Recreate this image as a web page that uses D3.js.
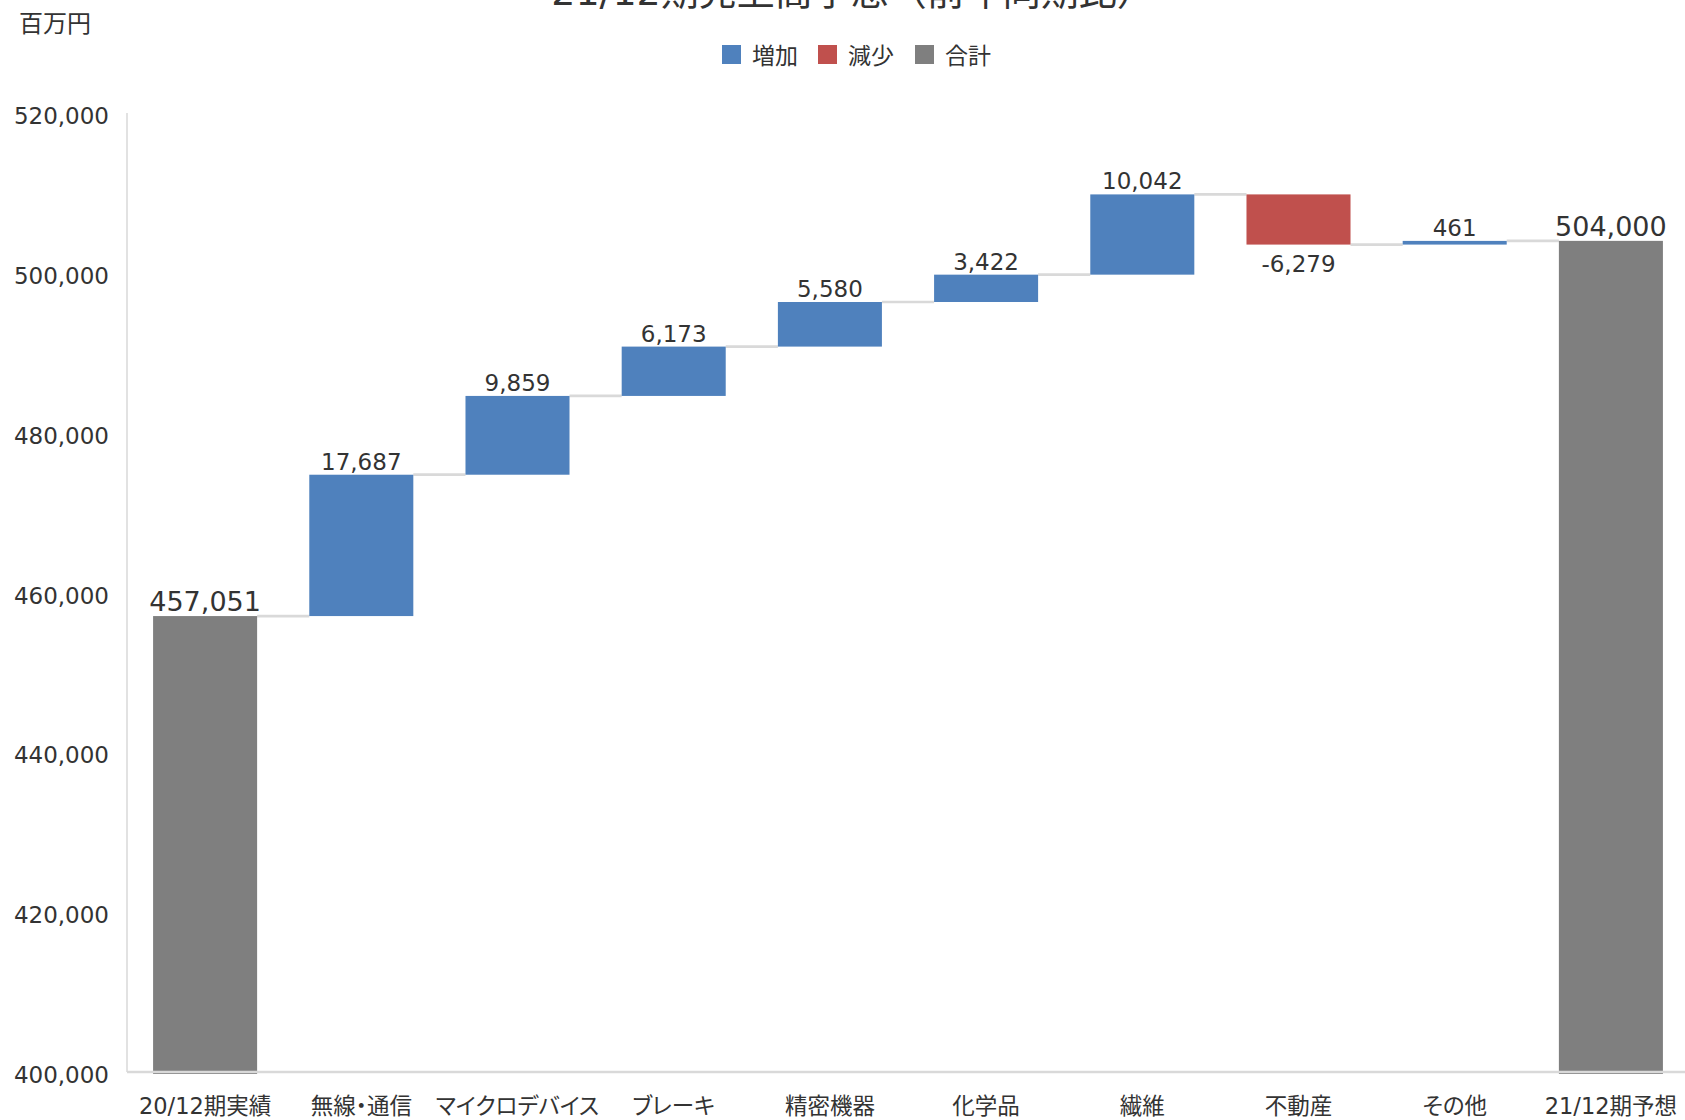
<!DOCTYPE html>
<html>
<head>
<meta charset="utf-8">
<script src="https://cdn.jsdelivr.net/npm/d3@7/dist/d3.min.js"></script>
<style>
html,body{margin:0;padding:0;background:#fff;}
svg{display:block;}
text{font-family:"DejaVu Sans","Noto Sans CJK JP",sans-serif;fill:#333;}
.cjk{font-feature-settings:"palt";}
</style>
</head>
<body>
<svg id="chart" width="1685" height="1120"></svg>
<script>
const title = "21/12期売上高予想（前年同期比）";
const unitLabel = "百万円";
const categories = ["20/12期実績","無線・通信","マイクロデバイス","ブレーキ","精密機器","化学品","繊維","不動産","その他","21/12期予想"];
const values = [457051, 17687, 9859, 6173, 5580, 3422, 10042, -6279, 461, 504000];
const kinds = ["total","delta","delta","delta","delta","delta","delta","delta","delta","total"];
const yTicks = [400000, 420000, 440000, 460000, 480000, 500000, 520000];
const legendNames = ["増加","減少","合計"];
const colors = {up:"#4f81bd", down:"#c0504d", total:"#7f7f7f"};

const svg = d3.select("#chart");
const W = 1685, H = 1120;
const x0 = 127, x1 = 1689, yTop = 113, yBot = 1072;
const fmt = d3.formatLocale({decimal: ".", thousands: ",", grouping: [3], currency: ["", ""], minus: "-"}).format(",");

const x = d3.scaleBand().domain(categories).range([x0, x1]).paddingInner(0.334).paddingOuter(0.167);
const y = d3.scaleLinear().domain([400000, 520000]).range([yBot, yTop]);

// compute waterfall
let run = 0;
const bars = categories.map((c, i) => {
  let start, end, type;
  if (kinds[i] === "total") {
    start = 400000; end = values[i]; run = values[i]; type = "total";
  } else {
    start = run; end = run + values[i]; run = end; type = values[i] >= 0 ? "up" : "down";
  }
  return {c, i, start, end, type, v: values[i], level: run};
});

// y axis line
svg.append("line").attr("x1", x0).attr("x2", x0).attr("y1", yTop).attr("y2", yBot)
  .attr("stroke", "#d9d9d9").attr("stroke-width", 1.5);

// connectors
for (let i = 0; i < bars.length - 1; i++) {
  const b = bars[i];
  const lvl = b.type === "total" ? b.end : b.level;
  svg.append("line")
    .attr("x1", x(b.c) + x.bandwidth()).attr("x2", x(bars[i+1].c))
    .attr("y1", y(lvl)).attr("y2", y(lvl))
    .attr("stroke", "#d9d9d9").attr("stroke-width", 2.7);
}

// bars
svg.append("g").selectAll("rect").data(bars).join("rect")
  .attr("x", d => x(d.c))
  .attr("width", x.bandwidth())
  .attr("y", d => y(Math.max(d.start, d.end)))
  .attr("height", d => Math.abs(y(d.start) - y(d.end)) + (d.type === "total" ? 2 : 0))
  .attr("fill", d => colors[d.type]);

// x axis line
svg.append("line").attr("x1", x0).attr("x2", W).attr("y1", yBot).attr("y2", yBot)
  .attr("stroke", "#d9d9d9").attr("stroke-width", 2.5);

// y tick labels
svg.append("g").selectAll("text").data(yTicks).join("text")
  .attr("x", 109).attr("y", d => y(d) + 11)
  .attr("text-anchor", "end").attr("font-size", 23)
  .text(d => fmt(d));

// x labels
svg.append("g").selectAll("text").data(categories).join("text")
  .attr("class", "cjk")
  .attr("x", d => x(d) + x.bandwidth() / 2).attr("y", 1114)
  .attr("text-anchor", "middle").attr("font-size", 22.5)
  .text(d => d);

// data labels
svg.append("g").selectAll("text").data(bars).join("text")
  .attr("x", d => x(d.c) + x.bandwidth() / 2)
  .attr("y", d => d.type === "down" ? y(d.end) + 27 : y(Math.max(d.start, d.end)) - 5)
  .attr("text-anchor", "middle")
  .attr("font-size", d => d.type === "total" ? 27 : 23)
  .text(d => fmt(d.v));

// title (partially cut off at the top, as in the reference)
svg.append("text").attr("x", 853).attr("y", 5).attr("text-anchor", "middle")
  .attr("font-size", 38).text(title);

// unit label
svg.append("text").attr("x", 19).attr("y", 32).attr("font-size", 24).text(unitLabel);

// legend
const legendColors = [colors.up, colors.down, colors.total];
const legendX = [722, 818, 915];
const lg = svg.append("g");
legendNames.forEach((n, i) => {
  lg.append("rect").attr("x", legendX[i]).attr("y", 45).attr("width", 19).attr("height", 19).attr("fill", legendColors[i]);
  lg.append("text").attr("x", legendX[i] + 30).attr("y", 64).attr("font-size", 23).text(n);
});
</script>
</body>
</html>
